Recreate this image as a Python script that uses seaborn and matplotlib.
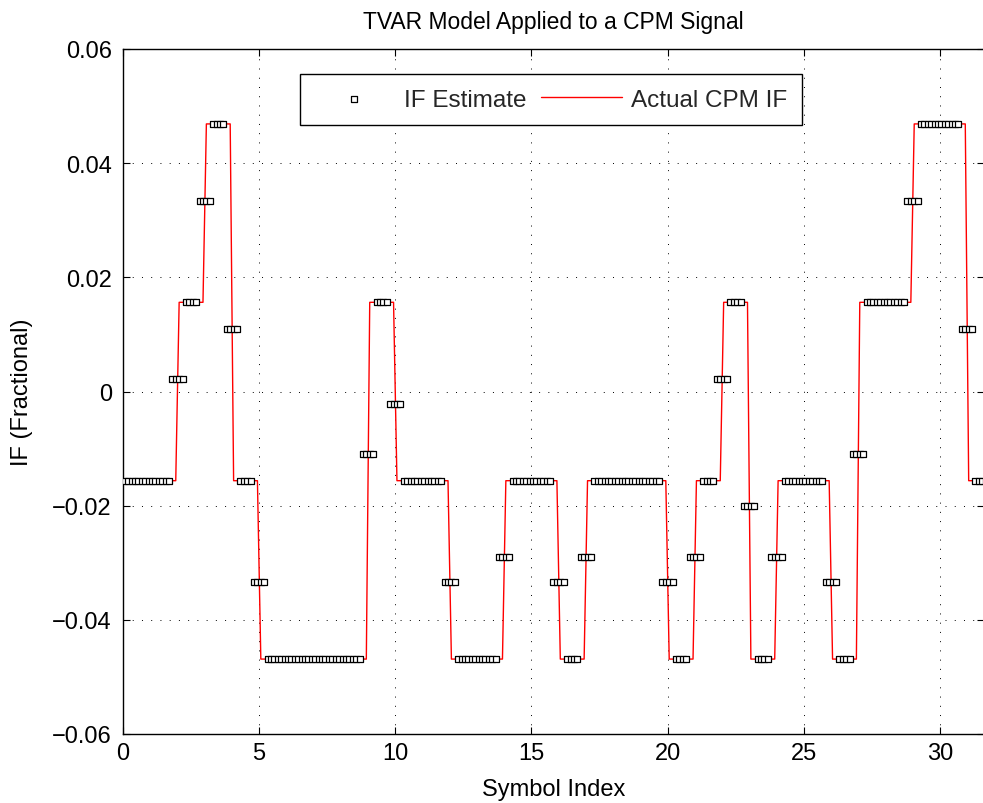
import numpy as np
import pandas as pd
import matplotlib
matplotlib.use("Agg")
import matplotlib.pyplot as plt
import seaborn as sns

# ---- data ----
samples_per_symbol = 8
# actual CPM IF level per symbol (units of 1/64 cycles/sample)
symbol_levels = [-1, -1, 1, 3, -1, -3, -3, -3, -3, 1, -1, -1, -3, -3, -1, -1,
                 -3, -1, -1, -1, -3, -1, 1, -3, -1, -1, -3, 1, 1, 3, 3, -1]
level_unit = 1.0 / 64

# IF estimate, run-length encoded (value, number of samples)
est_values = [-0.015625, 0.0022, 0.015625, 0.0334, 0.046875, 0.011, -0.015625,
              -0.0334, -0.046875, -0.011, 0.015625, -0.0022, -0.015625, -0.0334,
              -0.046875, -0.029, -0.015625, -0.0334, -0.046875, -0.029, -0.015625,
              -0.0334, -0.046875, -0.029, -0.015625, 0.0022, 0.015625, -0.020,
              -0.046875, -0.029, -0.015625, -0.0334, -0.046875, -0.011, 0.015625,
              0.0334, 0.046875, 0.011, -0.015625]
est_counts = [14, 4, 4, 4, 4, 4, 4, 4, 28, 4, 4, 4, 12, 4, 12, 4, 12, 4, 4, 4, 20,
              4, 4, 4, 4, 4, 4, 4, 4, 4, 12, 4, 4, 4, 12, 4, 12, 4, 6]

y_ticks = [-0.06, -0.04, -0.02, 0, 0.02, 0.04, 0.06]
y_tick_labels = ["\u22120.06", "\u22120.04", "\u22120.02", "0", "0.02", "0.04", "0.06"]
x_ticks = [0, 5, 10, 15, 20, 25, 30]

# ---- build tables ----
actual = np.repeat(np.array(symbol_levels) * level_unit, samples_per_symbol)
estimate = np.repeat(est_values, est_counts)
n = len(actual)
t = (np.arange(n) + 0.5) / samples_per_symbol
df = pd.DataFrame({"t": t, "actual": actual, "estimate": estimate})

sns.set_theme(style="white")
plt.rcParams["font.family"] = ["Liberation Sans", "DejaVu Sans"]
plt.rcParams["axes.unicode_minus"] = True

fig = plt.figure(figsize=(9.83, 8.04), dpi=100)
ax = fig.add_axes([123 / 983, 69 / 804, 861 / 983, 685 / 804])

sns.scatterplot(data=df, x="t", y="estimate", ax=ax, marker="s", s=17,
                facecolor="white", edgecolor="black", linewidth=0.9,
                label="IF Estimate", zorder=3)
sns.lineplot(data=df, x="t", y="actual", ax=ax, color="red", linewidth=1.0,
             sort=False, estimator=None, label="Actual CPM IF", zorder=2)

ax.set_xlim(0, 31.625)
ax.set_ylim(-0.06, 0.06)
ax.set_xticks(x_ticks)
ax.set_yticks(y_ticks)
ax.set_yticklabels(y_tick_labels)

fs = 17
ax.tick_params(axis="both", which="major", direction="in", length=5, width=0.8,
               labelsize=fs, color="black", labelcolor="black",
               top=True, right=True, bottom=True, left=True)
ax.tick_params(axis="y", pad=8)
ax.tick_params(axis="x", pad=6)
for sp in ax.spines.values():
    sp.set_color("black")
    sp.set_linewidth(1.0)

ax.grid(True, color="black", linestyle=(0, (1, 8.5)), linewidth=0.7)

ax.set_xlabel("Symbol Index", fontsize=fs, color="black", labelpad=10)
ax.set_ylabel("IF (Fractional)", fontsize=fs, color="black", labelpad=14)
ax.set_title("TVAR Model Applied to a CPM Signal", fontsize=16.5, color="black", pad=15)

leg = ax.legend(loc="upper center", bbox_to_anchor=(0.497, 0.9635), ncol=2,
                fontsize=fs + 0.5, frameon=True, fancybox=False, handlelength=3.3,
                columnspacing=0.6, handletextpad=0.4, borderpad=0.6,
                borderaxespad=0.0, markerscale=1.0)
leg.get_frame().set_edgecolor("black")
leg.get_frame().set_linewidth(1.0)
leg.get_frame().set_alpha(1.0)

fig.savefig("out.png", dpi=100)
